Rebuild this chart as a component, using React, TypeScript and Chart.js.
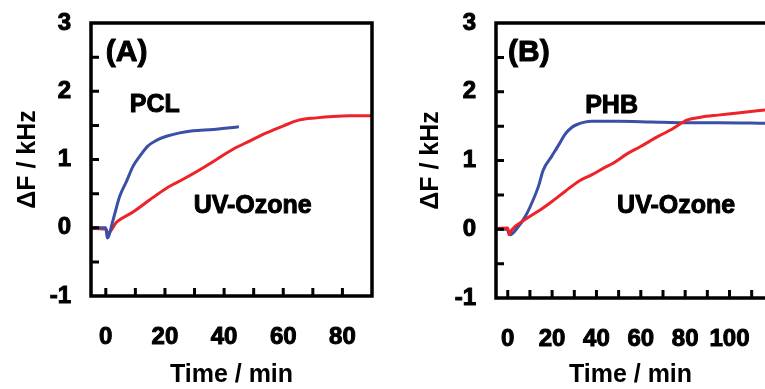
import React, { useEffect, useRef } from "react";
import { Chart, registerables } from "chart.js";

Chart.register(...registerables);

// ---------- Data ----------
// Panel A
const pclTime = [-5, 0, 0.5, 2.5, 4.7, 7, 9.2, 11.5, 14.3, 17.1, 20.5, 25, 29.5, 36.3, 45];
const pclDF = [0, 0, -0.15, 0.12, 0.46, 0.68, 0.9, 1.05, 1.2, 1.28, 1.34, 1.39, 1.42, 1.44, 1.48];
const uvATime = [-5, 0, 0.8, 3.6, 9.2, 14.9, 20.5, 26.1, 31.8, 37.4, 43, 48.6, 54.3, 59.9, 65.5, 71.2, 76.8, 82.4, 90];
const uvADF = [-0.01, -0.02, -0.08, 0.08, 0.23, 0.41, 0.58, 0.71, 0.85, 1.0, 1.15, 1.27, 1.39, 1.49, 1.58, 1.61, 1.63, 1.64, 1.64];

// Panel B
const phbTime = [-5, -0.4, 1, 4.8, 7.8, 10, 13.8, 16, 19.8, 23.6, 25.8, 28.8, 31, 37.8, 49.8, 64.8, 79.8, 94.8, 117];
const phbDF = [0, 0, -0.08, 0.04, 0.18, 0.32, 0.62, 0.86, 1.06, 1.26, 1.38, 1.48, 1.52, 1.57, 1.57, 1.56, 1.55, 1.55, 1.54];
const uvBTime = [-5, 0, 0.6, 1.8, 7.8, 14.6, 19.8, 25.8, 32.6, 37.8, 43.8, 47.5, 54, 59.7, 67.8, 73.8, 81, 87, 94.8, 103.7, 117];
const uvBDF = [0.01, 0.02, -0.08, -0.01, 0.14, 0.28, 0.4, 0.55, 0.71, 0.79, 0.9, 0.96, 1.1, 1.2, 1.35, 1.45, 1.59, 1.63, 1.66, 1.69, 1.74];

// Ticks
const xLabelsA = [0, 20, 40, 60, 80];
const xMarksA = [0, 10, 20, 30, 40, 50, 60, 70, 80];
const xLabelsB = [0, 20, 40, 60, 80, 100];
const xMarksB = [0, 10, 20, 30, 40, 50, 60, 70, 80, 90, 100, 110];
const yLabels = [-1, 0, 1, 2, 3];
const yMarks = [-0.5, 0, 0.5, 1, 1.5, 2, 2.5];

// Text labels
const xTitle = "Time / min";
const yTitle = "\u0394F / kHz";
const annotationsA = [
  { text: "(A)", x: 0, y: 2.56, size: 30 },
  { text: "PCL", x: 8.1, y: 1.79, size: 25 },
  { text: "UV-Ozone", x: 29.7, y: 0.315, size: 25 },
];
const annotationsB = [
  { text: "(B)", x: 0.1, y: 2.57, size: 30 },
  { text: "PHB", x: 34.9, y: 1.79, size: 25 },
  { text: "UV-Ozone", x: 49.3, y: 0.33, size: 25 },
];

const BLUE = "#3a4fa6";
const RED = "#ee2229";
const FONT = '"Liberation Sans", Arial, Helvetica, sans-serif';

const toPts = (xs: number[], ys: number[]) => xs.map((x, i) => ({ x, y: ys[i] }));

const framePlugin = {
  id: "frame",
  afterDraw(chart: any, _args: any, opts: any) {
    const { ctx, chartArea } = chart;
    const { left, right, top, bottom } = chartArea;
    const xs = chart.scales.x;
    const ys = chart.scales.y;
    ctx.save();
    ctx.strokeStyle = "#000";
    ctx.lineWidth = 3.5;
    ctx.lineCap = "square";
    ctx.beginPath();
    if (opts.rightSide) {
      ctx.moveTo(right, top);
      ctx.lineTo(left, top);
      ctx.lineTo(left, bottom);
      ctx.lineTo(right, bottom);
      ctx.closePath();
    } else {
      ctx.moveTo(right + 5, top);
      ctx.lineTo(left, top);
      ctx.lineTo(left, bottom);
      ctx.lineTo(right + 5, bottom);
    }
    ctx.stroke();
    ctx.lineWidth = 3;
    ctx.lineCap = "butt";
    ctx.beginPath();
    for (const v of opts.xMarks) {
      const px = xs.getPixelForValue(v);
      ctx.moveTo(px, bottom);
      ctx.lineTo(px, bottom - 8);
    }
    for (const v of opts.yMarks) {
      const py = ys.getPixelForValue(v);
      ctx.moveTo(left, py);
      ctx.lineTo(left + 8, py);
    }
    ctx.stroke();
    ctx.fillStyle = "#000";
    ctx.strokeStyle = "#000";
    ctx.lineWidth = 1;
    ctx.lineJoin = "round";
    ctx.textAlign = "left";
    ctx.textBaseline = "middle";
    for (const a of opts.annotations) {
      ctx.font = `bold ${a.size}px ${FONT}`;
      const px = xs.getPixelForValue(a.x);
      const py = ys.getPixelForValue(a.y);
      ctx.fillText(a.text, px, py);
      ctx.strokeText(a.text, px, py);
    }
    ctx.restore();
  },
};

type PanelProps = {
  width: number;
  height: number;
  xMin: number;
  xMax: number;
  yAxisWidth: number;
  xAxisHeight: number;
  padRight: number;
  yTitlePad: number;
  xLabels: number[];
  xMarks: number[];
  annotations: any[];
  rightSide: boolean;
  datasets: any[];
};

function Panel(p: PanelProps) {
  const ref = useRef<HTMLCanvasElement | null>(null);
  useEffect(() => {
    if (!ref.current) return;
    const tickFont = { family: FONT, size: 24, weight: "bold" as const };
    const titleFont = { family: FONT, size: 25, weight: "bold" as const, lineHeight: 1 };
    const chart = new Chart(ref.current, {
      type: "line",
      data: { datasets: p.datasets },
      options: {
        animation: false,
        responsive: false,
        maintainAspectRatio: false,
        layout: { padding: { top: 23, right: p.padRight, left: 0, bottom: 0 } },
        plugins: {
          legend: { display: false },
          tooltip: { enabled: false },
          frame: { xMarks: p.xMarks, yMarks, annotations: p.annotations, rightSide: p.rightSide },
        } as any,
        elements: { point: { radius: 0 }, line: { borderWidth: 3, cubicInterpolationMode: "monotone" } },
        scales: {
          x: {
            type: "linear",
            min: p.xMin,
            max: p.xMax,
            grid: { display: false, drawTicks: false },
            border: { display: false },
            afterBuildTicks: (s: any) => {
              s.ticks = p.xLabels.map((v) => ({ value: v }));
            },
            afterFit: (s: any) => {
              s.height = p.xAxisHeight;
              s.paddingLeft = 0;
              s.paddingRight = 0;
            },
            ticks: {
              padding: 27,
              color: "#000",
              font: tickFont,
              autoSkip: false,
              maxRotation: 0,
              textStrokeColor: "#000",
              textStrokeWidth: 1,
            },
            title: { display: true, text: xTitle, color: "#000", font: titleFont, padding: { top: 0, bottom: 1 } },
          },
          y: {
            type: "linear",
            min: -1,
            max: 3,
            grid: { display: false, drawTicks: false },
            border: { display: false },
            afterBuildTicks: (s: any) => {
              s.ticks = yLabels.map((v) => ({ value: v }));
            },
            afterFit: (s: any) => {
              s.width = p.yAxisWidth;
              s.paddingTop = 0;
              s.paddingBottom = 0;
            },
            ticks: { padding: 20, color: "#000", font: tickFont, textStrokeColor: "#000", textStrokeWidth: 1 },
            title: { display: true, text: yTitle, color: "#000", font: titleFont, padding: { top: p.yTitlePad, bottom: 0 } },
          },
        },
      },
      plugins: [framePlugin],
    } as any);
    return () => chart.destroy();
  }, []);
  return <canvas ref={ref} width={p.width} height={p.height} style={{ display: "block", width: p.width, height: p.height }} />;
}

export default function App() {
  const dsA = [
    { data: toPts(pclTime, pclDF), borderColor: BLUE, backgroundColor: BLUE },
    { data: toPts(uvATime, uvADF), borderColor: RED, backgroundColor: RED },
  ];
  const dsB = [
    { data: toPts(uvBTime, uvBDF), borderColor: RED, backgroundColor: RED },
    { data: toPts(phbTime, phbDF), borderColor: BLUE, backgroundColor: BLUE },
  ];
  return (
    <div style={{ position: "absolute", left: 0, top: 0, width: 765, height: 389, background: "#fff", overflow: "hidden" }}>
      <div style={{ position: "absolute", left: 0, top: 0 }}>
        <Panel
          width={385}
          height={389}
          xMin={-5}
          xMax={90}
          yAxisWidth={91}
          xAxisHeight={93}
          padRight={13}
          yTitlePad={16}
          xLabels={xLabelsA}
          xMarks={xMarksA}
          annotations={annotationsA}
          rightSide={true}
          datasets={dsA}
        />
      </div>
      <div style={{ position: "absolute", left: 385, top: 0 }}>
        <Panel
          width={380}
          height={389}
          xMin={-5.3}
          xMax={116}
          yAxisWidth={111}
          xAxisHeight={91}
          padRight={0}
          yTitlePad={34}
          xLabels={xLabelsB}
          xMarks={xMarksB}
          annotations={annotationsB}
          rightSide={false}
          datasets={dsB}
        />
      </div>
    </div>
  );
}
